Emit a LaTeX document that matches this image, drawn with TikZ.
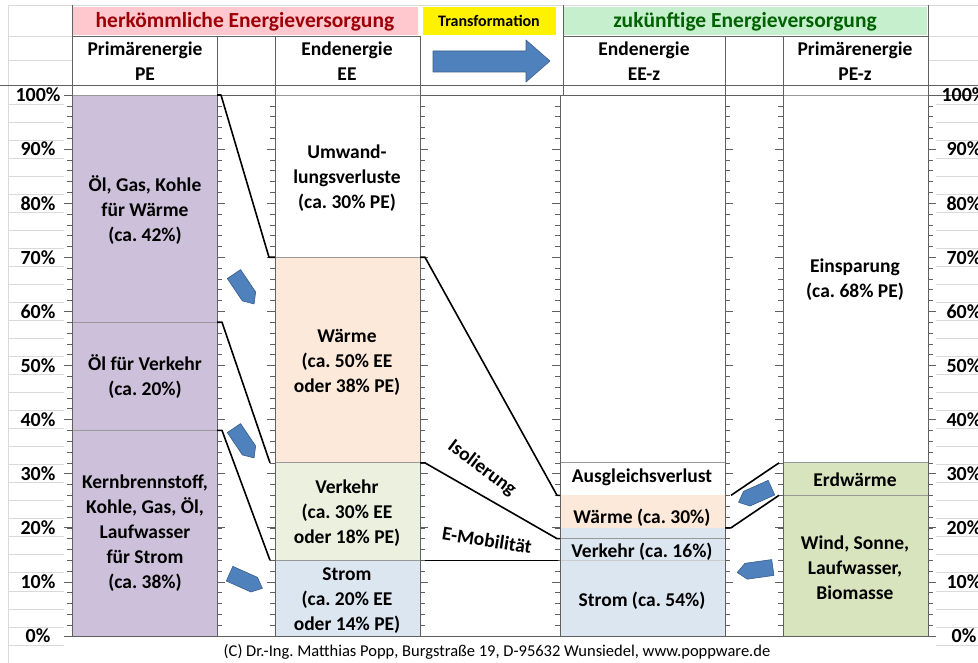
\documentclass[tikz,border=0pt]{standalone}
\usepackage{fontspec}
\setmainfont{Carlito}
\usetikzlibrary{positioning,calc}
\frenchspacing

\definecolor{pelila}{HTML}{CCC0DA}
\definecolor{waerme}{HTML}{FDE9D9}
\definecolor{verkehr}{HTML}{EBF1DE}
\definecolor{strom}{HTML}{DCE6F1}
\definecolor{erneuer}{HTML}{D7E4BD}
\definecolor{badfill}{HTML}{FFC7CE}
\definecolor{badtext}{HTML}{9C0006}
\definecolor{goodfill}{HTML}{C6EFCE}
\definecolor{goodtext}{HTML}{006100}
\definecolor{arrblue}{HTML}{4F81BD}
\definecolor{arrline}{HTML}{385D8A}
\definecolor{cellgrid}{HTML}{DADADA}

\tikzset{
  bartext/.style={font=\bfseries\fontsize{19.5}{25}\selectfont, align=center, inner sep=0pt},
  axislabel/.style={font=\bfseries\fontsize{20}{22}\selectfont, inner sep=0pt},
  hdrtext/.style={font=\bfseries\fontsize{21.5}{24}\selectfont, inner sep=0pt},
  segment/.style={draw=gray!80, line width=0.8pt},
  flowline/.style={black, line width=1.6pt, line join=round},
  blockarrow/.style={fill=arrblue, draw=arrline, line width=0.6pt, line join=round},
  border/.style={gray!75!black, line width=0.8pt},
}

% small block arrow: x, y (pixels), direction
\newcommand{\flowarrow}[3]{%
  \filldraw[blockarrow, shift={(#1,#2)}, rotate=#3]
    (-18,-8) -- (9,-8) -- (18,0) -- (9,8) -- (-18,8) -- cycle;}

\begin{document}
\begin{tikzpicture}[x=1pt,y=-1pt]
\useasboundingbox (0,0) rectangle (978,663);
\fill[white] (0,0) rectangle (978,663);

% spreadsheet cells in the margins
\foreach \k in {0,...,31} {
  \draw[cellgrid, line width=0.6pt] (8,{104+18.03*\k}) -- (64,{104+18.03*\k});
  \draw[cellgrid, line width=0.6pt] (936,{104+18.03*\k}) -- (978,{104+18.03*\k});
}
\draw[cellgrid, line width=0.6pt] (8,5) -- (978,5);
\draw[cellgrid, line width=0.6pt] (8,5) -- (8,663);
\draw[cellgrid, line width=0.6pt] (8,36) -- (72,36) (8,60) -- (72,60) (928,36) -- (978,36) (928,60) -- (978,60);

% header cells
\fill[badfill] (73,7) rectangle (418,35);
\fill[yellow] (423,7) rectangle (556,35);
\fill[goodfill] (564,7) rectangle (927,35);
\draw[border] (72,36) -- (420,36) (563,36) -- (928,36);
\draw[border] (0,85) -- (978,85);
\foreach \x in {72,563,928} \draw[border] (\x,5) -- (\x,95);
\draw[border] (420,36) -- (420,95);
\foreach \x in {217,275,725,783} \draw[border] (\x,36) -- (\x,95);

\node[hdrtext, text=badtext] (hdrOld) at (245,22) {herkömmliche Energieversorgung};
\node[font=\bfseries\fontsize{16}{18}\selectfont, inner sep=0pt] (hdrTrans) at (489,21) {Transformation};
\node[hdrtext, text=goodtext] (hdrNew) at (745,22) {zukünftige Energieversorgung};
\node[bartext] (colPE) at (145,61) {Primärenergie\\PE};
\node[bartext] (colEE) at (347,61) {Endenergie\\EE};
\node[bartext] (colEEz) at (644,61) {Endenergie\\EE-z};
\node[bartext] (colPEz) at (855,61) {Primärenergie\\PE-z};

% transformation arrow
\filldraw[blockarrow] (433,51) -- (526,51) -- (526,40) -- (550,61) -- (526,82) -- (526,72) -- (433,72) -- cycle;

% chart area: x in pixels, y in percent
\begin{scope}[shift={(0,636)}, y=5.41pt]
\draw[border] (72,100) -- (978,100);

% bars
\draw[segment, fill=pelila] (72,58) rectangle (217,100);
\draw[segment, fill=pelila] (72,38) rectangle (217,58);
\draw[segment, fill=pelila] (72,0) rectangle (217,38);

\draw[segment, fill=white] (275,70) rectangle (420,100);
\draw[segment, fill=waerme] (275,32) rectangle (420,70);
\draw[segment, fill=verkehr] (275,14) rectangle (420,32);
\draw[segment, fill=strom] (275,0) rectangle (420,14);

\draw[segment, fill=white] (560,26) rectangle (725,32);
\fill[waerme] (560,20) rectangle (725,26);
\fill[strom] (560,0) rectangle (725,20);
\draw[segment] (560,18) -- (725,18);
\draw[segment, draw=gray!40] (560,14) -- (725,14);

\draw[segment, fill=white] (783,32) rectangle (928,100);
\draw[segment, fill=erneuer] (783,26) rectangle (928,32);
\draw[segment, fill=erneuer] (783,0) rectangle (928,26);

% axes and column borders with ticks
\foreach \x/\d in {72/-1, 217/1, 275/-1, 420/1, 560/-1, 725/1, 783/-1, 928/1} {
  \draw[border] (\x,0) -- (\x,100);
  \foreach \p in {0,2,...,100} \draw[border, line width=0.6pt] (\x,\p) -- ++(\d*5,0);
  \foreach \p in {0,10,...,100} \draw[border] (\x,\p) -- ++(\d*8,0);
}
\draw[border] (64,0) -- (936,0);

\foreach \p in {0,10,...,100} {
  \node[axislabel] (yl\p) at (38,\p) {\p\%};
  \node[axislabel] (yr\p) at (964,\p) {\p\%};
}

% flows
\draw[flowline] (217,100) -- (221,100) -- (269,70) -- (275,70);
\draw[flowline] (217,58) -- (222,58) -- (270,32);
\draw[flowline] (217,38) -- (222,38) -- (270,14);
\draw[flowline] (420,70) -- (425,70) -- (557,26) -- (560,26);
\draw[flowline] (420,32) -- (425,32) -- (557,18) -- (560,18);
\draw[flowline, line width=1.2pt] (425,14) -- (558,14);
\draw[flowline] (725,20) -- (731,20) -- (779,26);
\draw[flowline] (731,26) -- (779,32);

% texts in the bars
\node[bartext] (peWaerme) at (145,78.8) {Öl, Gas, Kohle\\für Wärme\\(ca. 42\%)};
\node[bartext] (peVerkehr) at (145,47.9) {Öl für Verkehr\\(ca. 20\%)};
\node[bartext] (peStrom) at (145,19) {Kernbrennstoff,\\Kohle, Gas, Öl,\\Laufwasser\\für Strom\\(ca. 38\%)};

\node[bartext] (eeVerlust) at (347,84.7) {Umwand-\\lungsverluste\\(ca. 30\% PE)};
\node[bartext] (eeWaerme) at (347,50.6) {Wärme\\(ca. 50\% EE\\oder 38\% PE)};
\node[bartext] (eeVerkehr) at (347,22.7) {Verkehr\\(ca. 30\% EE\\oder 18\% PE)};
\node[bartext] (eeStrom) at (347,6.6) {Strom\\(ca. 20\% EE\\oder 14\% PE)};

\node[bartext] (ezAusgleich) at (642,29.4) {Ausgleichsverlust};
\node[bartext] (ezWaerme) at (642,21.8) {Wärme (ca. 30\%)};
\node[bartext] (ezVerkehr) at (642,15.5) {Verkehr (ca. 16\%)};
\node[bartext] (ezStrom) at (642,6.6) {Strom (ca. 54\%)};

\node[bartext] (pzEinsparung) at (855,65.8) {Einsparung\\(ca. 68\% PE)};
\node[bartext] (pzErdwaerme) at (855,28.8) {Erdwärme};
\node[bartext] (pzErneuer) at (855,12.7) {Wind, Sonne,\\Laufwasser,\\Biomasse};

\node[bartext, rotate=-37] (isolierung) at (482,31.0) {Isolierung};
\node[bartext, rotate=-9] (emobil) at (487,17.7) {E-Mobilität};
\end{scope}

% arrows in the gaps
\flowarrow{244}{289}{-56}
\flowarrow{244}{443}{-56}
\flowarrow{246}{581}{-24}
\flowarrow{755}{495}{204}
\flowarrow{755}{570}{188}

\node[font=\fontsize{16.5}{18}\selectfont, inner sep=0pt] (footer) at (497,652)
  {(C) Dr.-Ing. Matthias Popp, Burgstraße 19, D-95632 Wunsiedel, www.poppware.de};
\end{tikzpicture}
\end{document}
